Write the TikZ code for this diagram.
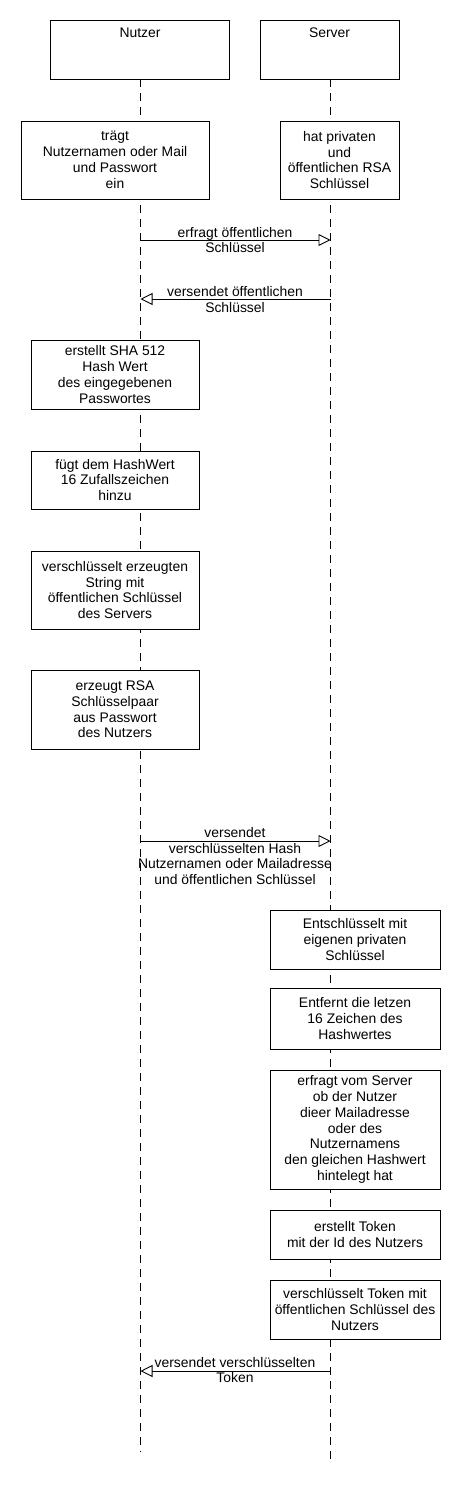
\documentclass[tikz,border=0pt]{standalone}
\usepackage{fontspec}
\setmainfont{Liberation Sans}
\usetikzlibrary{arrows.meta}
\begin{document}
\begin{tikzpicture}[x=1pt,y=-1pt,
  every node/.style={font=\fontsize{13.9}{15.8}\selectfont, align=center, inner sep=0pt},
  box/.style={draw=black, fill=white, line width=0.9pt, rectangle},
  life/.style={draw=black, line width=0.9pt, dash pattern=on 8pt off 6pt},
  msg/.style={draw=black, line width=0.9pt, -{Triangle[open, length=12pt, width=12pt, line width=0.9pt]}}]
\useasboundingbox (0,0) rectangle (460,1500);
% headers
\node[box, minimum width=179pt, minimum height=59pt] (nutzer) at (140,49.5) {};
\node[box, minimum width=139pt, minimum height=59pt] (server) at (329.5,49.5) {};
\node (nutzerlbl) at (140,33) {Nutzer};
\node (serverlbl) at (329.5,33) {Server};
% lifeline ends
\coordinate (nend) at (140.5,1452);
\coordinate (send) at (330.5,1460);
\draw[life] (nutzer.south -| nend) -- (nend);
\draw[life] (server.south -| send) -- (send);
% user boxes
\node[box, minimum width=188pt, minimum height=78pt] (n1) at (115,160)
  {trägt\\Nutzernamen oder Mail\\und Passwort\\ein};
\node[box, minimum width=168pt, minimum height=69pt] (n2) at (115,374.5)
  {erstellt SHA 512\\Hash Wert\\des eingegebenen\\Passwortes};
\node[box, minimum width=168pt, minimum height=58pt] (n3) at (115,480)
  {fügt dem HashWert\\16 Zufallszeichen\\hinzu};
\node[box, minimum width=168pt, minimum height=78pt] (n4) at (115,590)
  {verschlüsselt erzeugten\\String mit\\öffentlichen Schlüssel\\des Servers};
\node[box, minimum width=168pt, minimum height=79pt] (n5) at (115,709.5)
  {erzeugt RSA\\Schlüsselpaar\\aus Passwort\\des Nutzers};
% server boxes
\node[box, minimum width=119pt, minimum height=78pt] (s1) at (339.5,160)
  {hat privaten\\und\\öffentlichen RSA\\Schlüssel};
\node[box, minimum width=170pt, minimum height=59pt] (s2) at (355,939.5)
  {Entschlüsselt mit\\eigenen privaten\\Schlüssel};
\node[box, minimum width=170pt, minimum height=61pt] (s3) at (355,1018.5)
  {Entfernt die letzen\\16 Zeichen des\\Hashwertes};
\node[box, minimum width=170pt, minimum height=119pt] (s4) at (355,1129.5)
  {erfragt vom Server\\ob der Nutzer\\dieer Mailadresse\\oder des\\Nutzernamens\\den gleichen Hashwert\\hintelegt hat};
\node[box, minimum width=170pt, minimum height=49pt] (s5) at (355,1234.5)
  {erstellt Token\\mit der Id des Nutzers};
\node[box, minimum width=170pt, minimum height=59pt] (s6) at (355,1309.5)
  {verschlüsselt Token mit\\öffentlichen Schlüssel des\\Nutzers};
% message endpoints
\coordinate (m1a) at (140.5,240);  \coordinate (m1b) at (330.5,240);
\coordinate (m2a) at (330.5,299);  \coordinate (m2b) at (140.5,299);
\coordinate (m3a) at (140.5,841);  \coordinate (m3b) at (330.5,841);
\coordinate (m4a) at (330.5,1371); \coordinate (m4b) at (140.5,1371);
\draw[msg] (m1a) -- (m1b);
\draw[msg] (m2a) -- (m2b);
\draw[msg] (m3a) -- (m3b);
\draw[msg] (m4a) -- (m4b);
\node (l1) at (235,240) {erfragt öffentlichen\\Schlüssel};
\node (l2) at (235,299.5) {versendet öffentlichen\\Schlüssel};
\node (l3) at (235,856) {versendet\\verschlüsselten Hash\\Nutzernamen oder Mailadresse\\und öffentlichen Schlüssel};
\node (l4) at (235,1370) {versendet verschlüsselten\\Token};
\end{tikzpicture}
\end{document}
